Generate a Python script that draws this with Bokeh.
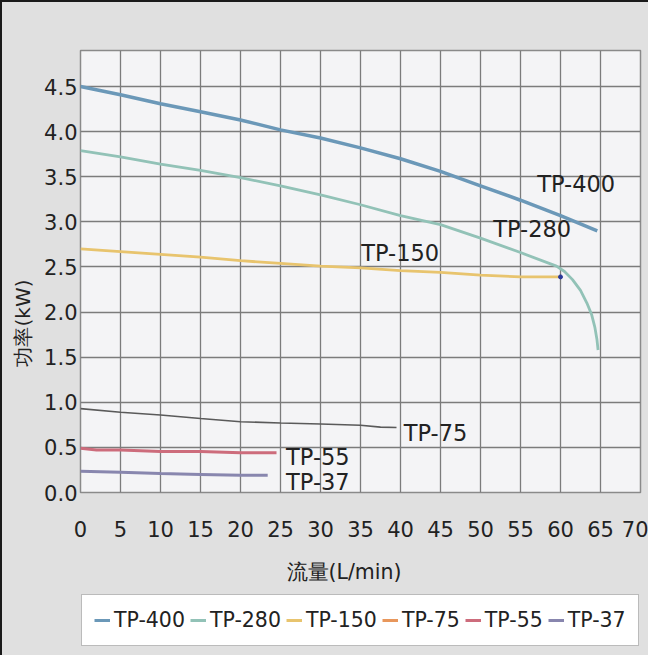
from bokeh.plotting import figure
from bokeh.layouts import column
from bokeh.models import (Legend, LegendItem, Title, FixedTicker,
                          PrintfTickFormatter)
from bokeh.core.properties import value
from bokeh.embed import file_html
from bokeh.resources import INLINE

# ---------------- data ----------------
series_names = ["TP-400", "TP-280", "TP-150", "TP-75", "TP-55", "TP-37"]

tp400_x = [0, 5, 10, 15, 20, 25, 30, 35, 40, 45, 50, 55, 60, 64.6]
tp400_y = [4.50, 4.41, 4.31, 4.22, 4.13, 4.02, 3.93, 3.82, 3.70, 3.56, 3.40, 3.24, 3.07, 2.90]

tp280_x = [0, 5, 10, 15, 20, 25, 30, 35, 40, 45, 50, 55, 59.5, 60.5, 61.5, 62.5,
           63.3, 63.9, 64.3, 64.55, 64.7]
tp280_y = [3.79, 3.72, 3.64, 3.57, 3.49, 3.40, 3.30, 3.19, 3.07, 2.97, 2.82, 2.66, 2.51, 2.45,
           2.36, 2.24, 2.10, 1.97, 1.83, 1.70, 1.58]

tp150_x = [0, 5, 10, 15, 20, 25, 30, 35, 40, 45, 50, 55, 60]
tp150_y = [2.70, 2.67, 2.64, 2.61, 2.57, 2.54, 2.51, 2.49, 2.46, 2.44, 2.41, 2.39, 2.39]

tp75_x = [0, 5, 10, 15, 20, 25, 30, 35, 37.5, 39.5]
tp75_y = [0.93, 0.89, 0.86, 0.82, 0.785, 0.77, 0.76, 0.745, 0.725, 0.72]

tp55_x = [0, 2, 5, 10, 15, 20, 24.5]
tp55_y = [0.49, 0.47, 0.47, 0.455, 0.455, 0.44, 0.44]

tp37_x = [0, 5, 10, 15, 20, 23.4]
tp37_y = [0.235, 0.225, 0.21, 0.20, 0.19, 0.19]

x_ticks = [0, 5, 10, 15, 20, 25, 30, 35, 40, 45, 50, 55, 60, 65, 70]
y_ticks = [0.0, 0.5, 1.0, 1.5, 2.0, 2.5, 3.0, 3.5, 4.0, 4.5]

# in-plot series labels (data coordinates, left-middle anchored)
label_x = [57.1, 51.6, 35.1, 40.4, 25.7, 25.7]
label_y = [3.42, 2.92, 2.66, 0.66, 0.39, 0.12]

x_title = "流量(L/min)"
y_title = "功率(kW)"

# ---------------- styles ----------------
FONT = "DejaVu Sans"
TXT = "#222222"
BG = "#e0e0e0"
colors = ["#6b98b8", "#92c2b7", "#e8c46e", "#e8975c", "#cd6c7c", "#8886ae"]
line_colors = ["#6b98b8", "#92c2b7", "#e8c46e", "#5a5a5a", "#cd6c7c", "#8886ae"]
widths = [3.5, 2.8, 2.8, 1.6, 3.0, 3.0]

p = figure(width=646, height=547, x_range=(0, 70), y_range=(0, 4.9),
           output_backend="svg", toolbar_location=None,
           min_border_left=78, min_border_top=48, min_border_right=8,
           min_border_bottom=57,
           background_fill_color="#f4f4f6", border_fill_color=BG,
           outline_line_color="#8a8a8a", outline_line_width=1.5)

p.xaxis.ticker = FixedTicker(ticks=x_ticks)
p.yaxis.ticker = FixedTicker(ticks=y_ticks)
p.yaxis.formatter = PrintfTickFormatter(format="%.1f")
for ax in (p.xaxis, p.yaxis):
    ax.axis_line_color = None
    ax.major_tick_line_color = None
    ax.minor_tick_line_color = None
    ax.major_tick_out = 0
    ax.major_tick_in = 0
    ax.major_label_text_font = FONT
    ax.major_label_text_font_size = "21px"
    ax.major_label_text_color = TXT
p.xaxis.major_label_standoff = 28
p.yaxis.major_label_standoff = 3

p.xgrid.grid_line_color = "#7c7c7c"
p.ygrid.grid_line_color = "#7c7c7c"
p.xgrid.grid_line_width = 1.3
p.ygrid.grid_line_width = 1.3

xs = [tp400_x, tp280_x, tp150_x, tp75_x, tp55_x, tp37_x]
ys = [tp400_y, tp280_y, tp150_y, tp75_y, tp55_y, tp37_y]

for x, y, lc, w in zip(xs, ys, line_colors, widths):
    p.line(x, y, line_color=lc, line_width=w)

# small end marker on TP-150
p.scatter([tp150_x[-1]], [tp150_y[-1]], size=4, color="#2a3a9a")

# in-plot labels
p.text(x=label_x, y=label_y, text=series_names, text_font=value(FONT),
       text_font_size="22.5px", text_color=TXT, text_align="left",
       text_baseline="middle")

# y axis title
p.add_layout(Title(text=y_title, align="left", offset=126, standoff=13,
                   text_font=FONT, text_font_size="20px",
                   text_font_style="normal", text_color=TXT), "left")

# ---------------- x title + legend strip ----------------
pl = figure(width=646, height=106, x_range=(0, 1), y_range=(0, 1),
            output_backend="svg", toolbar_location=None,
            x_axis_location=None, y_axis_location=None,
            min_border_left=78, min_border_right=8, min_border_top=0,
            min_border_bottom=0,
            background_fill_color=BG, border_fill_color=BG,
            outline_line_color=None)
pl.grid.visible = False

pl.add_layout(Title(text=x_title, align="left", offset=206, standoff=16,
                    text_font=FONT, text_font_size="20.5px",
                    text_font_style="normal", text_color=TXT), "above")

items = []
for name, x, y, c in zip(series_names, xs, ys, colors):
    # one-point lines draw nothing but give the legend its swatches
    r = pl.line(x[:1], y[:1], line_color=c, line_width=3.0)
    items.append(LegendItem(label=name, renderers=[r]))

legend = Legend(items=items, orientation="horizontal", location=(1, 9),
                label_text_font=FONT, label_text_font_size="20.5px",
                label_text_color=TXT, glyph_width=16, glyph_height=20,
                label_height=26, label_standoff=4, spacing=5, padding=12,
                margin=0, border_line_color="#777777", border_line_width=1.5,
                background_fill_color="white", background_fill_alpha=1.0)
pl.add_layout(legend, "center")

layout = column(p, pl, spacing=0)
layout.styles = {"border-left": "2px solid #1a1a1a",
                 "border-top": "2px solid #1a1a1a",
                 "background-color": BG}

open("out.html", "w").write(file_html(layout, INLINE))
